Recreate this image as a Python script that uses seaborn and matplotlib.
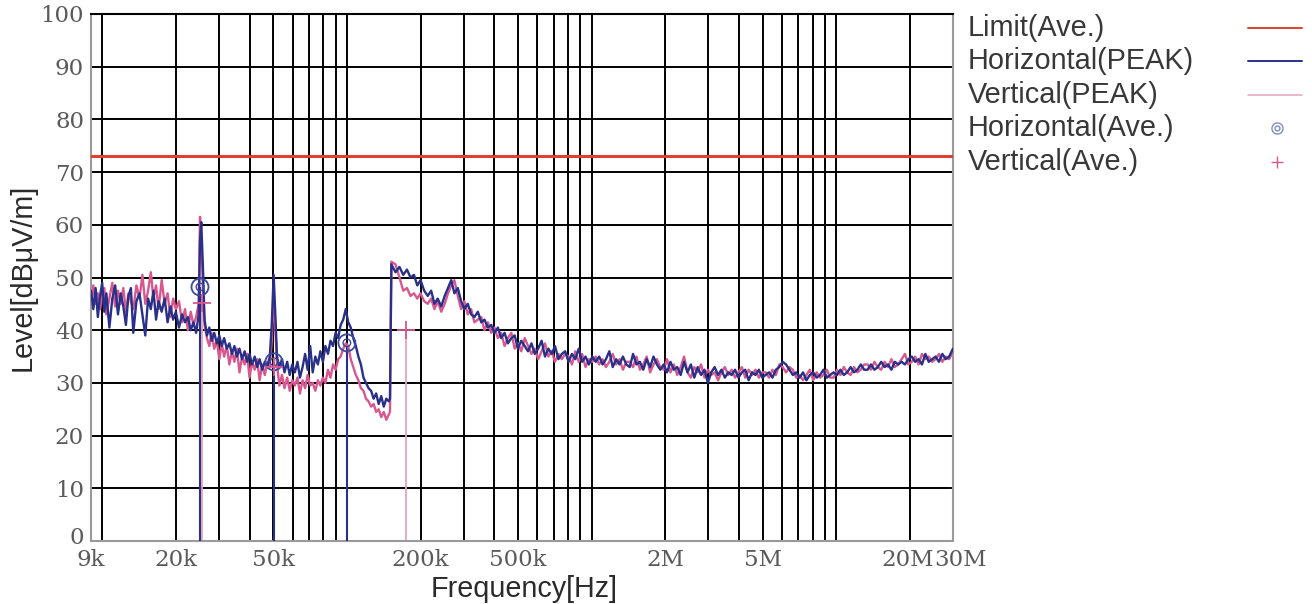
import numpy as np
import pandas as pd
import matplotlib
matplotlib.use("Agg")
import matplotlib.pyplot as plt
from matplotlib.lines import Line2D
from matplotlib.ticker import NullFormatter
from matplotlib.transforms import ScaledTranslation
import seaborn as sns

# ---------------- data ----------------
# Band A: 9 kHz - 150 kHz (frequencies in kHz)
freq_a_khz = [
    9.0, 9.2, 9.4, 9.6, 9.8, 10.0, 10.2, 10.4, 10.7, 11.0,
    11.3, 11.6, 11.9, 12.2, 12.5, 12.8, 13.1, 13.4, 13.8, 14.2,
    14.6, 15.0, 15.4, 15.8, 16.2, 16.6, 17.0, 17.5, 18.0, 18.5,
    19.0, 19.5, 20.0, 20.6, 21.2, 21.8, 22.4, 23.0, 23.6, 24.2,
    24.8, 25.1, 25.4, 25.8, 26.2, 26.8, 27.4, 28.0, 28.7, 29.4,
    30.1, 30.8, 31.5, 32.3, 33.1, 33.9, 34.7, 35.5, 36.4, 37.3,
    38.2, 39.1, 40.0, 41.0, 42.0, 43.0, 44.0, 45.1, 46.2, 47.3,
    48.4, 49.3, 50.2, 51.0, 51.8, 53.0, 54.3, 55.6, 57.0, 58.4,
    59.8, 61.3, 62.8, 64.3, 65.9, 67.5, 69.1, 70.8, 72.5, 74.3,
    76.1, 77.9, 79.8, 81.7, 83.7, 85.7, 87.8, 89.9, 92.1, 94.3,
    96.6, 98.9, 101.3, 103.7, 106.2, 108.8, 111.4, 114.1, 116.9, 119.7,
    122.6, 125.6, 128.6, 131.7, 134.9, 138.2, 141.5, 144.9, 148.4, 150.0,
]
h_peak_a = [
    47.5, 44.0, 48.0, 42.5, 46.5, 49.0, 43.5, 47.0, 40.5, 46.0,
    48.5, 43.0, 47.0, 44.5, 41.0, 46.5, 48.0, 39.5, 45.5, 47.0,
    43.0, 39.0, 46.0, 44.0, 47.5, 42.0, 45.5, 43.5, 46.0, 41.5,
    44.5, 42.0, 43.5, 40.5, 43.0, 41.5, 42.5, 40.0, 41.5, 39.5,
    43.0, 57.0, 60.5, 52.0, 42.0, 39.0, 40.5, 38.0, 39.5, 37.5,
    39.0, 37.0, 38.5, 36.5, 37.5, 35.5, 37.0, 35.0, 36.5, 34.5,
    36.0, 34.0, 35.5, 33.5, 35.0, 33.0, 34.5, 32.5, 34.0, 33.0,
    35.0, 41.0, 50.5, 43.0, 35.0, 33.0, 34.5, 32.0, 34.0, 31.5,
    33.5, 32.0, 34.0, 31.0, 33.0, 35.5, 32.5, 37.0, 32.0, 35.0,
    33.5, 36.0, 34.0, 37.0, 35.5, 38.0, 37.0, 39.5, 38.5, 41.0,
    42.0, 44.0, 41.5, 40.5, 38.5, 37.0, 35.0, 33.5, 31.0, 30.0,
    29.0, 28.5, 27.0, 28.0, 26.0, 27.5, 25.5, 27.0, 26.5, 27.0,
]
v_peak_a = [
    46.0, 48.5, 45.0, 47.0, 44.0, 46.5, 48.0, 43.0, 46.0, 49.0,
    44.5, 47.5, 45.0, 48.0, 43.5, 47.0, 45.5, 44.0, 48.5, 46.0,
    50.5, 45.0, 47.5, 51.0, 46.0, 48.5, 44.0, 49.5, 45.0, 47.0,
    42.5, 46.0, 44.0, 45.5, 41.5, 44.0, 40.0, 43.5, 41.0, 42.5,
    45.0, 61.5, 58.0, 48.0, 41.0, 38.5, 37.0, 39.5, 36.5, 38.0,
    34.5, 37.5, 35.0, 37.0, 33.5, 36.0, 34.0, 36.5, 32.0, 35.0,
    33.5, 35.5, 31.0, 34.0, 32.5, 34.5, 30.5, 33.5, 31.5, 34.0,
    33.0, 38.0, 47.0, 40.0, 33.5, 29.5, 31.5, 29.0, 31.0, 28.5,
    30.5, 29.5, 31.0, 28.0, 30.5, 29.0, 31.5, 29.5, 30.0, 28.5,
    30.5, 29.5, 31.0, 30.0, 32.5, 31.0, 33.5, 32.5, 34.5, 35.0,
    36.5, 37.5, 37.0, 34.5, 33.0, 31.5, 30.5, 29.0, 28.5, 27.0,
    26.5, 25.5, 26.0, 24.5, 25.0, 23.5, 24.5, 23.0, 24.0, 24.5,
]

# Band B: 150 kHz - 30 MHz (frequencies in kHz)
freq_b_khz = [
    152, 158, 164, 170, 176, 182, 188, 194, 200, 207,
    214, 221, 228, 235, 243, 251, 259, 267, 275, 284,
    293, 302, 312, 322, 332, 343, 354, 365, 377, 389,
    401, 414, 427, 441, 455, 470, 485, 500, 516, 533,
    550, 568, 586, 605, 625, 645, 666, 687, 709, 732,
    756, 780, 805, 831, 858, 886, 915, 945, 975, 1007,
    1040, 1074, 1109, 1145, 1182, 1220, 1260, 1301, 1343, 1387,
    1432, 1478, 1526, 1576, 1627, 1680, 1735, 1791, 1849, 1909,
    1971, 2035, 2101, 2169, 2240, 2313, 2388, 2466, 2546, 2629,
    2714, 2802, 2893, 2987, 3084, 3184, 3288, 3395, 3505, 3619,
    3737, 3858, 3984, 4113, 4247, 4385, 4528, 4675, 4827, 4984,
    5146, 5313, 5486, 5664, 5848, 6038, 6234, 6437, 6646, 6862,
    7085, 7315, 7553, 7798, 8052, 8313, 8583, 8862, 9150, 9447,
    9754, 10071, 10398, 10736, 11085, 11445, 11817, 12201, 12598, 13007,
    13430, 13866, 14317, 14782, 15262, 15758, 16270, 16799, 17345, 17909,
    18491, 19092, 19712, 20353, 21014, 21697, 22402, 23130, 23882, 24658,
    25460, 26287, 27141, 28023, 28934, 30000,
]
h_peak_b = [
    52.5, 51.0, 52.0, 50.5, 51.5, 50.0, 50.5, 48.5, 49.5, 47.5,
    46.5, 47.5, 45.0, 46.0, 44.5, 46.5, 48.0, 49.5, 47.0, 48.0,
    45.5, 44.0, 45.0, 43.0, 42.5, 43.5, 41.5, 42.0, 40.5, 41.0,
    39.5, 40.5, 38.5, 39.5, 37.5, 38.5, 39.0, 36.5, 38.0, 37.0,
    36.0, 37.5, 35.5, 36.5, 38.0, 35.0, 36.5, 35.5, 37.0, 34.5,
    35.5, 36.0, 34.0, 35.5, 34.5, 36.5, 34.0, 35.0, 33.5, 35.0,
    34.0, 35.0, 33.5, 34.5, 36.0, 33.0, 34.5, 33.5, 35.0, 33.5,
    33.0, 35.5, 33.5, 34.0, 32.5, 34.5, 33.0, 35.0, 33.5, 32.5,
    33.5, 32.0, 34.0, 32.5, 33.0, 31.5, 34.0, 32.0, 33.5, 31.0,
    33.0, 31.5, 32.5, 30.0, 32.0, 33.0, 31.5, 32.5, 31.0, 32.0,
    31.5, 32.5, 31.0, 32.0, 32.5, 30.5, 32.0, 31.5, 32.5, 31.0,
    31.5, 32.0, 31.0, 32.5, 33.0, 34.0, 33.5, 32.5, 31.5, 32.0,
    31.0, 32.0, 30.5, 31.5, 32.0, 31.0, 31.5, 32.5, 31.0, 31.5,
    32.0, 31.5, 32.5, 31.5, 32.0, 33.0, 32.0, 32.5, 33.5, 32.5,
    32.5, 33.5, 32.5, 33.0, 34.0, 33.0, 33.5, 32.5, 34.0, 33.5,
    34.0, 33.5, 34.5, 35.0, 34.0, 34.5, 33.5, 35.5, 34.0, 34.5,
    35.0, 34.0, 35.5, 34.5, 35.0, 36.5,
]
v_peak_b = [
    53.0, 52.5, 50.0, 47.5, 48.0, 46.5, 47.0, 46.0, 47.0, 45.5,
    45.0, 46.0, 44.0, 45.5, 43.5, 45.0, 47.0, 48.5, 49.5, 46.5,
    44.0, 45.5, 43.0, 44.0, 41.5, 42.0, 42.5, 40.0, 41.5, 39.5,
    40.5, 38.5, 39.5, 37.0, 38.5, 39.5, 36.5, 37.5, 36.0, 38.5,
    37.0, 35.5, 36.5, 34.5, 36.0, 37.5, 35.0, 36.0, 34.0, 35.5,
    34.5, 35.5, 35.0, 33.5, 36.0, 34.0, 35.5, 33.0, 34.5, 34.0,
    35.0, 33.5, 34.5, 33.0, 34.0, 35.5, 33.5, 34.5, 32.5, 34.0,
    34.0, 33.0, 35.0, 32.5, 33.5, 35.0, 32.0, 33.5, 34.5, 33.0,
    32.5, 34.5, 32.0, 33.5, 31.5, 33.0, 35.0, 32.0, 31.0, 33.0,
    32.0, 33.5, 31.0, 32.5, 31.5, 32.0, 30.5, 32.0, 33.0, 31.5,
    32.5, 31.0, 32.0, 33.0, 31.0, 32.5, 31.5, 32.5, 31.0, 32.0,
    32.0, 31.0, 32.5, 31.5, 33.5, 33.0, 32.0, 33.0, 32.5, 31.0,
    31.5, 30.5, 31.5, 32.5, 30.5, 32.0, 31.0, 31.5, 32.5, 31.0,
    31.0, 32.5, 31.5, 33.0, 32.0, 31.5, 33.0, 32.0, 32.5, 33.5,
    33.5, 32.5, 34.0, 33.0, 32.5, 34.0, 33.0, 34.5, 33.0, 33.5,
    34.5, 35.5, 33.5, 34.0, 35.0, 33.5, 35.5, 34.5, 35.0, 34.0,
    34.5, 35.5, 34.0, 35.0, 34.5, 36.0,
]

limit_level = 73.0

h_ave_freq_khz = [25.1, 50.3, 100.0]
h_ave_level = [48.2, 34.0, 37.6]
v_ave_freq_khz = [25.6, 50.5, 175.0]
v_ave_level = [45.2, 33.0, 40.0]

x_tick_values = [9e3, 2e4, 5e4, 2e5, 5e5, 2e6, 5e6, 2e7, 3e7]
x_tick_labels = ["9k", "20k", "50k", "200k", "500k", "2M", "5M", "20M", "30M"]
y_tick_values = [0, 10, 20, 30, 40, 50, 60, 70, 80, 90, 100]

legend_labels = ["Limit(Ave.)", "Horizontal(PEAK)", "Vertical(PEAK)",
                 "Horizontal(Ave.)", "Vertical(Ave.)"]

# ---------------- styling ----------------
NAVY = "#283089"
PINK = "#d9578f"
PINK_LIGHT = "#e9a3bd"
RED = "#e0402e"
GRAY = "#9a9a9a"

sns.set_style("white")
plt.rcParams["font.family"] = ["Liberation Sans", "DejaVu Sans"]

W, H = 1312, 604
fig = plt.figure(figsize=(W / 100, H / 100), dpi=100)
ax = fig.add_axes([91 / W, 63 / H, 862 / W, 527 / H])
ax.set_xscale("log")
ax.set_xlim(9e3, 3e7)
ax.set_ylim(0, 100)

# grid (vertical log grid + horizontal every 10)
grid_x = [d * m for d in (1e4, 1e5, 1e6, 1e7) for m in range(1, 10) if d * m < 3e7]
ax.vlines(grid_x, 0, 100, color="black", lw=1.4, zorder=1)
ax.hlines(y_tick_values[1:-1], 9e3, 3e7, color="black", lw=1.4, zorder=1)

# traces
rows = []
for f, h, v in zip(freq_a_khz + freq_b_khz, h_peak_a + h_peak_b, v_peak_a + v_peak_b):
    rows.append({"Frequency": f * 1e3, "Level": v, "Trace": "Vertical(PEAK)"})
    rows.append({"Frequency": f * 1e3, "Level": h, "Trace": "Horizontal(PEAK)"})
df = pd.DataFrame(rows)

sns.lineplot(data=df, x="Frequency", y="Level", hue="Trace",
             hue_order=["Vertical(PEAK)", "Horizontal(PEAK)"],
             palette={"Vertical(PEAK)": PINK, "Horizontal(PEAK)": NAVY},
             estimator=None, sort=False, linewidth=1.7, legend=False,
             ax=ax, zorder=3)

# limit line
ax.axhline(limit_level, color=RED, lw=2.2, zorder=4)

# average markers with stems
h_f = [f * 1e3 for f in h_ave_freq_khz]
v_f = [f * 1e3 for f in v_ave_freq_khz]
ax.vlines(v_f, 0, v_ave_level, color=PINK_LIGHT, lw=1.3, zorder=2.5)
ax.vlines(h_f, 0, h_ave_level, color=NAVY, lw=1.5, zorder=2.6)
ax.scatter(h_f, h_ave_level, s=150, facecolors="none", edgecolors="#3a4a9c",
           linewidths=1.3, zorder=5)
ax.scatter(h_f, h_ave_level, s=30, facecolors="none", edgecolors="#3a4a9c",
           linewidths=1.0, zorder=5)
ax.scatter(v_f, v_ave_level, s=160, marker="+", color=PINK, linewidths=1.3,
           zorder=5)

# ticks
ax.set_xticks(x_tick_values)
ax.set_xticklabels(x_tick_labels)
ax.xaxis.set_minor_formatter(NullFormatter())
ax.xaxis.set_minor_locator(matplotlib.ticker.NullLocator())
ax.set_yticks(y_tick_values)
ax.set_yticklabels([str(v) for v in y_tick_values])
ax.grid(False)
ax.tick_params(which="both", length=0)
ax.tick_params(axis="x", pad=6)
ax.tick_params(axis="y", pad=5)
for lab in ax.get_xticklabels() + ax.get_yticklabels():
    lab.set_fontfamily("DejaVu Serif")
    lab.set_fontsize(16.5)
    lab.set_color("#5a5a5a")
xt = ax.get_xticklabels()
xt[-1].set_transform(xt[-1].get_transform() + ScaledTranslation(8 / 100, 0, fig.dpi_scale_trans))
xt[-2].set_transform(xt[-2].get_transform() + ScaledTranslation(-2 / 100, 0, fig.dpi_scale_trans))
yt = ax.get_yticklabels()
yt[0].set_transform(yt[0].get_transform() + ScaledTranslation(0, 6 / 100, fig.dpi_scale_trans))

for side in ("left", "bottom", "right"):
    ax.spines[side].set_color(GRAY)
    ax.spines[side].set_linewidth(1.5)
ax.spines["top"].set_color("black")
ax.spines["top"].set_linewidth(1.5)

ax.set_xlabel("Frequency[Hz]", fontsize=20.7, color="#2a2a2a")
ax.set_ylabel("Level[dBμV/m]", fontsize=20.7, color="#2a2a2a")
ax.xaxis.set_label_coords(0.503, -0.064)
ax.yaxis.set_label_coords(-0.0627, 0.5)

# legend (text left, symbol right)
legend_y = [28, 61, 95, 128, 162]
for lab, yp in zip(legend_labels, legend_y):
    fig.text(968 / W, 1 - yp / H, lab, ha="left", va="center",
             fontsize=20.8, color="#383838")
fig.add_artist(Line2D([1248 / W, 1302 / W], [1 - 28 / H] * 2,
                      transform=fig.transFigure, color=RED, lw=1.4))
fig.add_artist(Line2D([1248 / W, 1302 / W], [1 - 61 / H] * 2,
                      transform=fig.transFigure, color=NAVY, lw=1.4))
fig.add_artist(Line2D([1248 / W, 1302 / W], [1 - 95 / H] * 2,
                      transform=fig.transFigure, color=PINK_LIGHT, lw=1.1))
fig.add_artist(Line2D([1277 / W], [1 - 128 / H], transform=fig.transFigure,
                      marker="o", markersize=8, markerfacecolor="none",
                      markeredgecolor="#7f8fc2", markeredgewidth=1.0, lw=0))
fig.add_artist(Line2D([1277 / W], [1 - 128 / H], transform=fig.transFigure,
                      marker="o", markersize=3.5, markerfacecolor="none",
                      markeredgecolor="#7f8fc2", markeredgewidth=1.0, lw=0))
fig.add_artist(Line2D([1277 / W], [1 - 162 / H], transform=fig.transFigure,
                      marker="+", markersize=8, color=PINK,
                      markeredgewidth=1.0, lw=0))

fig.savefig("out.png", dpi=100)
